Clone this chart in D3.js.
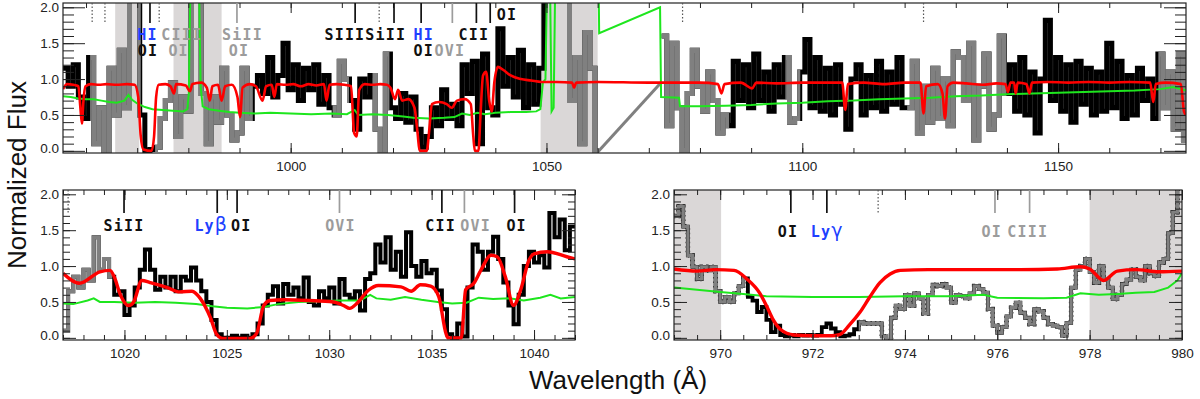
<!DOCTYPE html>
<html>
<head>
<meta charset="utf-8">
<script src="https://cdn.jsdelivr.net/npm/d3@7"></script>
<style>
  body { margin: 0; background: #fff; overflow: hidden; }
</style>
</head>
<body>
<div id="container"></div>
<script>
/* CONSTANTS AND GLOBALS */
const width = 1200, height = 399;
const tickFont = "Liberation Sans, Arial, sans-serif";
const ionFont = "DejaVu Sans Mono, monospace";
const fluxDomain = [-0.03, 2.06];
const shadeColor = "#dad7d7";
const ionColor = { b: "#111", g: "#9c9c9c", h: "#2040ff" };

/* DATA */
// ---- top panel (full range), flux in 1 A bins starting at 955.5
const topStart = 955.5, topBin = 1;
const topFlux = [
  1.15, 0.9, 1.2, 0.75, 0.45, 1.3, 0.1, 0.6, -0.1, 1.15,
  0.5, 1.4, 0.6, 2.3, 2.2, 0.5, 0.0, 0.02, 0.05, 0.45,
  0.7, 0.95, 0.2, 0.75, 0.55, 2.3, 2.3, 0.8, 0.1, 0.75,
  0.4, 1.15, 0.5, 0.15, 0.25, 1.15, 0.45, 0.9, 1.05, 0.8,
  1.3, 0.75, 1.05, 1.5, 0.85, 1.2, 0.7, 1.15, 0.85, 1.2,
  0.65, 1.05, 0.6, 0.5, 1.25, 1.0, 0.7, 0.3, 1.0, 0.75,
  1.05, 0.3, -0.05, 1.35, 0.6, 0.45, 0.8, 0.4, 0.75, 0.3,
  0.05, 0.2, 0.6, 0.35, 0.85, 0.45, 0.65, 0.35, 1.2, 0.8,
  1.25, 0.1, 1.35, 0.6, 0.5, 1.7, 0.9, 1.3, 0.75, 1.4,
  0.6, 1.2, 0.65, 1.15, 2.4, 2.4, 2.4, 2.3, 2.2, 0.7,
  1.3, 0.1, 1.65, 1.15, -0.05, null, null, null, null, null,
  null, null, null, null, null, null, null, 1.6, 0.35, 1.5,
  0.6, 0.0, 0.8, 1.4, 0.9, 0.55, 1.1, 0.7, 0.25, 0.5,
  0.35, 1.25, 0.7, 1.2, 0.6, 1.35, 0.7, 1.1, 0.55, 1.2,
  0.75, 1.3, 0.4, 0.45, 1.1, 1.55, 0.6, 1.3, 0.55, 1.15,
  0.5, 1.2, 0.65, 0.3, 1.0, 1.2, 0.5, 1.05, 0.6, 1.25,
  0.55, 1.1, 0.65, 1.3, 0.6, 0.6, 1.25, 0.25, 0.9, 0.4,
  1.15, 0.45, 1.0, 0.35, 1.38, 1.3, 0.7, 1.5, 0.15, 0.9,
  1.35, 0.3, 0.5, 1.6, 0.8, 1.2, 0.55, 1.3, 0.5, 1.1,
  0.25, 1.0, 1.82, 0.7, 1.3, 0.55, 1.2, 0.4, 1.25, 0.65,
  1.15, 0.5, 1.1, 0.55, 1.5, 0.6, 1.25, 0.45, 1.05, 0.5,
  1.15, 0.7, 1.0, 0.45, 1.35, 0.6, 1.1, 0.3, 1.35, 0.15
];
const topGapLine = [[1059.6, -0.05], [1072.5, 0.96]];
const topGray = [[960.8, 970.7], [973.5, 992.6], [1008.2, 1011.4], [1016, 1019.3],
  [1052, 1085.7], [1096.7, 1099.6], [1120.5, 1139.9], [1169.6, 1176]];
const topShade = [[965.7, 970.4], [977.1, 986.5], [1048.85, 1060]];
const topModel = [
  [955.5,0.86],[956.3,0.93],[957.5,0.92],[958.5,0.9],[958.9,0.6],[959.2,0.38],[959.5,0.7],[959.9,0.9],
  [961,0.93],[962.5,0.92],[964,0.93],[966,0.92],[968,0.93],[969.5,0.92],[970.2,0.75],[970.7,0.2],
  [971.2,0.02],[972.8,0.0],[973.3,0.2],[973.7,0.75],[974.2,0.92],[975.5,0.93],[976.5,0.9],[977.2,0.8],
  [977.6,0.93],[979.5,0.91],[980.3,0.83],[980.8,0.93],[982.5,0.95],[983.6,0.88],[984.2,0.7],[984.7,0.9],
  [985.8,0.92],[986.5,0.7],[987.2,0.9],[988.5,0.92],[989.6,0.75],[990.1,0.47],[990.6,0.88],[992,0.93],
  [993.2,0.9],[994.5,0.7],[995.2,0.9],[996.3,0.92],[996.8,0.75],[997.3,0.93],[999,0.92],[1000.5,0.93],
  [1002,0.9],[1003.5,0.93],[1005,0.91],[1006.5,0.93],[1007,0.7],[1007.6,0.92],[1009,0.93],[1010.5,0.92],
  [1011.8,0.9],[1012.4,0.25],[1012.9,0.2],[1013.4,0.85],[1014.5,0.93],[1016,0.92],[1017.5,0.93],[1018.8,0.92],
  [1019.5,0.88],[1020.4,0.72],[1021,0.85],[1021.8,0.7],[1023,0.72],[1024.2,0.6],[1024.8,0.25],[1025.2,0.0],
  [1026.6,0.0],[1027.1,0.3],[1027.6,0.65],[1029,0.68],[1030.5,0.65],[1031.5,0.6],[1032.5,0.7],[1034,0.72],
  [1035.2,0.65],[1035.7,0.2],[1036,0.0],[1036.7,0.0],[1037.1,0.5],[1037.6,1.05],[1038.2,1.1],[1038.8,0.7],
  [1039.3,0.55],[1039.8,0.95],[1040.5,1.17],[1041.5,1.13],[1043,1.05],[1045,1.0],[1047,0.98],[1049,0.96],
  [1052,0.96],[1055,0.95],[1055.4,0.88],[1055.8,0.95],[1060,0.96],[1070,0.95],[1080,0.95],[1083.5,0.93],
  [1084.2,0.8],[1084.8,0.93],[1088,0.95],[1090.2,0.87],[1091,0.95],[1095,0.94],[1100,0.95],[1105,0.95],
  [1107.8,0.95],[1108.4,0.57],[1108.9,0.93],[1112,0.95],[1116,0.93],[1120,0.95],[1123.1,0.95],[1123.7,0.52],
  [1124.2,0.9],[1126.5,0.93],[1127.4,0.8],[1127.9,0.45],[1128.4,0.9],[1129.5,0.95],[1132,0.94],[1135.2,0.92],
  [1138,0.94],[1139.7,0.93],[1140.2,0.82],[1140.7,0.95],[1141.4,0.95],[1141.7,0.8],[1142.1,0.95],[1143.8,0.93],
  [1144.4,0.8],[1144.9,0.95],[1148,0.96],[1152,0.95],[1156,0.96],[1160,0.95],[1164,0.96],[1168,0.95],
  [1168.6,0.68],[1169.1,0.93],[1171,0.95],[1174,0.93],[1174.6,0.55],[1175,0.5]
];
const topError = [
  [955.5,0.76],[957,0.75],[958.5,0.73],[960,0.72],[961.5,0.72],[963,0.7],[964.5,0.68],[966,0.67],
  [967.5,0.7],[968.3,0.78],[969,0.71],[970,0.66],[971.5,0.61],[973,0.58],[975,0.57],[977,0.56],
  [979,0.55],[979.8,0.58],[980.1,0.8],[980.4,2.3],[982.1,2.3],[982.4,0.9],[982.8,0.62],[984,0.58],
  [986,0.56],[988,0.54],[990,0.53],[993,0.52],[996,0.53],[1000,0.52],[1004,0.51],[1008,0.52],
  [1011,0.51],[1012.5,0.57],[1013.2,0.5],[1016,0.51],[1019,0.5],[1022,0.48],[1024,0.46],[1027,0.45],
  [1030,0.46],[1032,0.47],[1033.5,0.52],[1035,0.5],[1036.5,0.53],[1038,0.51],[1040,0.53],[1043,0.54],
  [1046,0.54],[1048,0.55],[1048.8,0.58],[1049.3,0.95],[1049.8,1.0],[1050.1,2.3],[1050.7,2.3],[1051.0,0.55],
  [1051.4,0.6],[1051.7,2.3],[1060.2,2.3],[1060.3,1.64],[1072.2,2.0],[1072.4,0.75],[1075.9,0.74],[1076.1,0.62],
  [1080,0.62],[1085,0.63],[1090,0.64],[1095,0.66],[1100,0.67],[1105,0.69],[1110,0.7],[1115,0.72],
  [1120,0.73],[1125,0.74],[1130,0.76],[1135,0.77],[1140,0.79],[1145,0.8],[1150,0.81],[1155,0.82],
  [1160,0.83],[1165,0.84],[1170,0.86],[1172.5,0.89],[1175,0.84]
];
// [wavelength, kind] ; kind: solid / gray / dot
const topMarks = [[961.2,"dot"],[963.7,"dot"],[972.5,"solid"],[974.3,"dot"],[989.5,"gray"],[1012.6,"solid"],
  [1017.3,"dot"],[1020.2,"solid"],[1025.5,"solid"],[1031.6,"gray"],[1036.3,"solid"],[1039.0,"solid"],
  [1076.6,"dot"],[1123.7,"dot"]];
// [text, wavelength, row, colour key]
const topLabels = [["HI",972.0,1,"h"],["OI",972.1,2,"b"],["CIII",978.7,1,"g"],["OI",978.1,2,"g"],
  ["SiII",990.6,1,"g"],["OI",989.9,2,"g"],["SIII",1010.6,1,"b"],["SiII",1018.6,1,"b"],
  ["HI",1026.0,1,"h"],["OI",1026.0,2,"b"],["OVI",1031.1,2,"g"],["CII",1035.8,1,"b"],["OI",1042.3,0,"b"]];

// ---- bottom left panel (Ly beta), 0.25 A bins from 1017
const blStart = 1017, blBin = 0.25;
const blFlux = [
  0.1, 0.65, 0.85, 0.7, 0.95, 0.8, 1.4, 0.95, 1.1, 0.85,
  0.6, 0.65, 0.32, 0.45, 0.7, 0.95, 1.23, 0.95, 0.67, 0.85,
  0.7, 0.85, 0.65, 0.85, 0.8, 0.98, 0.8, 0.65, 0.5, 0.25,
  0.05, 0.0, 0.0, 0.03, 0.0, 0.03, 0.0, 0.05, 0.2, 0.45,
  0.6, 0.72, 0.48, 0.75, 0.6, 0.7, 0.55, 0.84, 0.5, 0.45,
  0.65, 0.55, 0.7, 0.48, 0.82, 0.6, 0.55, 0.65, 0.38, 0.82,
  0.9, 1.3, 1.05, 1.4, 0.95, 1.2, 0.85, 1.47, 1.0, 0.85,
  1.07, 0.9, 0.95, 0.66, 0.4, 0.05, 0.0, 0.2, 0.02, 0.7,
  1.3, 1.2, 0.95, 1.2, 1.41, 1.1, 0.77, 0.45, 0.19, 0.6,
  1.0, 1.2, 1.05, 1.15, 0.98, 1.74, 1.4, 1.65, 1.22, 1.55
];
const blGray = [[1017, 1019.4]];
const blModel = [
  [1017,0.9],[1017.8,0.76],[1018.8,0.92],[1019.3,0.94],[1019.5,0.85],[1019.8,0.6],[1020.2,0.45],[1020.45,0.5],
  [1020.85,0.8],[1021.25,0.77],[1022.1,0.7],[1022.7,0.64],[1023.3,0.65],[1023.7,0.55],[1024.2,0.28],[1024.5,0.05],
  [1024.8,-0.01],[1026.1,-0.01],[1026.45,0.06],[1026.8,0.45],[1027.1,0.52],[1027.8,0.53],[1029,0.52],[1030.2,0.5],
  [1030.7,0.45],[1031,0.41],[1031.35,0.48],[1031.9,0.66],[1032.4,0.73],[1033.5,0.71],[1034,0.65],[1034.45,0.74],
  [1034.95,0.72],[1035.35,0.57],[1035.7,0.06],[1035.8,0.0],[1036.45,0.0],[1036.66,0.67],[1037.06,0.76],[1037.4,0.94],
  [1037.9,1.15],[1038.2,1.13],[1038.6,0.85],[1039,0.45],[1039.35,0.67],[1039.75,1.08],[1040,1.17],[1040.65,1.2],
  [1041.6,1.13],[1042,1.1]
];
const blError = [
  [1017,0.48],[1017.5,0.47],[1018.2,0.52],[1018.5,0.55],[1018.8,0.5],[1019.5,0.5],[1020.5,0.49],[1021.5,0.5],
  [1022.5,0.49],[1023.5,0.47],[1024.3,0.44],[1025,0.42],[1026,0.41],[1026.8,0.43],[1027.5,0.47],[1028.5,0.5],
  [1029.5,0.51],[1030.5,0.52],[1031.5,0.52],[1032,0.6],[1032.3,0.55],[1033,0.53],[1033.7,0.57],[1034.5,0.53],
  [1035.3,0.5],[1036,0.48],[1036.7,0.49],[1037.3,0.56],[1038,0.54],[1038.8,0.55],[1039.5,0.52],[1040.3,0.56],
  [1040.8,0.6],[1041.3,0.55],[1042,0.57]
];
const blMarks = [[1017.25,"dot"],[1019.98,"solid"],[1024.53,"solid"],[1025.5,"solid"],[1030.5,"gray"],
  [1035.5,"solid"],[1036.6,"gray"],[1039.05,"solid"]];
const blLabels = [["SiII",1019.98,0,"b"],["Lyβ",1024.24,0,"h"],["OI",1025.7,0,"b"],["OVI",1030.55,0,"g"],
  ["CII",1035.44,0,"b"],["OVI",1037.15,0,"g"],["OI",1039.15,0,"b"]];

// ---- bottom right panel (Ly gamma), 0.1 A bins from 969
const brStart = 969, brBin = 0.1;
const brFlux = [
  1.7, 1.83, 1.55, 1.15, 0.99, 0.82, 0.99, 0.94, 0.99, 0.65,
  0.5, 0.57, 0.5, 0.62, 0.72, 0.83, 0.57, 0.52, 0.36, 0.43,
  0.25, 0.08, 0.17, 0.04, 0.02, 0.04, 0.02, 0.04, 0.03, 0.04,
  0.03, 0.04, 0.15, 0.2, 0.13, 0.08, 0.02, 0.03, 0.05, 0.12,
  0.22, 0.2, 0.2, 0.2, 0.2, 0.02, -0.08, 0.28, 0.45, 0.4,
  0.6, 0.45, 0.62, 0.55, 0.34, 0.6, 0.74, 0.72, 0.75, 0.7,
  0.49, 0.6, 0.58, 0.55, 0.62, 0.72, 0.68, 0.63, 0.4, 0.17,
  0.07, 0.15, 0.3, 0.42, 0.49, 0.35, 0.28, 0.19, 0.4, 0.37,
  0.28, 0.19, 0.17, 0.15, 0.03, 0.21, 0.7, 0.95, 1.0, 1.1,
  0.92, 0.77, 1.0, 0.81, 0.7, 0.54, 0.6, 0.75, 0.81, 0.95,
  0.85, 0.8, 1.0, 0.9, 0.86, 1.05, 1.1, 1.46, 1.75, 2.1
];
const brGray = [[969, 970.55], [973.0, 980.5]];
const brShade = [[969, 970.02], [978.0, 980]];
const brModel = [
  [969,0.96],[969.5,0.93],[969.9,0.95],[970.3,0.94],[970.58,0.82],[970.86,0.62],[971.0,0.45],[971.15,0.25],
  [971.3,0.12],[971.6,0.04],[972.0,0.03],[972.4,0.03],[972.6,0.05],[972.8,0.18],[973.03,0.36],[973.24,0.57],
  [973.46,0.77],[973.68,0.89],[973.9,0.94],[974.5,0.95],[975.5,0.95],[976.5,0.95],[977.3,0.96],[977.8,0.99],
  [978.0,0.96],[978.3,0.8],[978.6,0.93],[979,0.95],[979.5,0.92],[980,0.93]
];
const brError = [
  [969,0.7],[969.5,0.67],[970,0.64],[970.5,0.61],[971,0.58],[972,0.57],[973,0.57],[974,0.58],[975,0.58],
  [975.7,0.6],[976,0.56],[977,0.55],[977.5,0.56],[977.8,0.62],[978.2,0.6],[978.6,0.61],[979,0.63],
  [979.4,0.64],[979.7,0.7],[979.9,0.8],[980,0.9]
];
const brMarks = [[971.53,"solid"],[972.31,"solid"],[973.42,"dot"],[975.95,"gray"],[976.7,"gray"]];
const brLabels = [["OI",971.47,0,"b"],["Lyγ",972.32,0,"h"],["OI",975.88,0,"g"],["CIII",976.66,0,"g"]];

const yMajor = [0, 0.5, 1.0, 1.5, 2.0];
const yMinor = d3.range(0, 2.0001, 0.1);

/* PANEL SETUP */
const panels = [
  { name: "top", x0: 63, x1: 1186, y0: 3, y1: 153, domain: [955.5, 1175], xMajor: 50, xMinor: 10,
    yMajLen: 22, yMinLen: 11, rows: [20, 40, 56], markLen: 20,
    start: topStart, bin: topBin, flux: topFlux, gray: topGray, shade: topShade, gap: topGapLine,
    model: topModel, error: topError, marks: topMarks, labels: topLabels, dataW: 5, modelW: 2.6, outline: false },
  { name: "left", x0: 63, x1: 575, y0: 190, y1: 340, domain: [1017, 1042], xMajor: 5, xMinor: 1,
    yMajLen: 13, yMinLen: 7, rows: [231], markLen: 23,
    start: blStart, bin: blBin, flux: blFlux, gray: blGray, shade: [], gap: null,
    model: blModel, error: blError, marks: blMarks, labels: blLabels, dataW: 4, modelW: 3.4, outline: false },
  { name: "right", x0: 674, x1: 1182, y0: 190, y1: 340, domain: [969, 980], xMajor: 2, xMinor: 0.5,
    yMajLen: 13, yMinLen: 7, rows: [237], markLen: 23,
    start: brStart, bin: brBin, flux: brFlux, gray: brGray, shade: brShade, gap: null,
    model: brModel, error: brError, marks: brMarks, labels: brLabels, dataW: 3.8, modelW: 3.4, outline: true }
];

const svg = d3.select("#container").append("svg")
  .attr("width", width).attr("height", height);
const defs = svg.append("defs");

function axisGroup(gen, tx, ty) {
  return svg.append("g")
    .attr("transform", `translate(${tx},${ty})`)
    .call(gen)
    .attr("font-family", tickFont)
    .attr("font-size", 13.5)
    .attr("color", "#222")
    .call(g => g.select(".domain").remove());
}

/* DRAW FUNCTION */
function drawPanel(p) {
  const x = d3.scaleLinear().domain(p.domain).range([p.x0, p.x1]);
  const y = d3.scaleLinear().domain(fluxDomain).range([p.y1, p.y0]);

  defs.append("clipPath").attr("id", "clip-" + p.name)
    .append("rect")
    .attr("x", p.x0).attr("y", p.y0)
    .attr("width", p.x1 - p.x0).attr("height", p.y1 - p.y0);

  const plot = svg.append("g").attr("clip-path", `url(#clip-${p.name})`);

  // masked regions
  plot.selectAll("rect.shade")
    .data(p.shade)
    .join("rect")
    .attr("class", "shade")
    .attr("x", d => x(d[0]))
    .attr("width", d => x(d[1]) - x(d[0]))
    .attr("y", p.y0)
    .attr("height", p.y1 - p.y0)
    .attr("fill", shadeColor);

  // spectrum as a histogram
  const pts = p.flux.map((v, i) => [p.start + i * p.bin, v]);
  pts.push([p.start + p.flux.length * p.bin, p.flux[p.flux.length - 1]]);

  const step = d3.line()
    .defined(d => d[1] !== null)
    .x(d => x(d[0]))
    .y(d => y(d[1]))
    .curve(d3.curveStepAfter);
  const straight = d3.line().x(d => x(d[0])).y(d => y(d[1]));
  const smooth = d3.line().x(d => x(d[0])).y(d => y(d[1])).curve(d3.curveMonotoneX);

  plot.append("path")
    .datum(pts)
    .attr("d", step)
    .attr("fill", "none")
    .attr("stroke", "#000")
    .attr("stroke-width", p.dataW);

  // grey parts of the spectrum
  p.gray.forEach((r, i) => {
    const id = `gclip-${p.name}-${i}`;
    defs.append("clipPath").attr("id", id)
      .append("rect")
      .attr("x", x(r[0])).attr("y", p.y0 - 5)
      .attr("width", x(r[1]) - x(r[0])).attr("height", p.y1 - p.y0 + 10);
    const seg = plot.append("g").attr("clip-path", `url(#${id})`);
    if (p.outline) {
      seg.append("path")
        .datum(pts)
        .attr("d", step)
        .attr("fill", "none")
        .attr("stroke", "#222")
        .attr("stroke-width", p.dataW + 0.8)
        .attr("stroke-dasharray", "1.5,3");
    }
    seg.append("path")
      .datum(pts)
      .attr("d", step)
      .attr("fill", "none")
      .attr("stroke", "#808080")
      .attr("stroke-width", p.outline ? p.dataW - 0.6 : p.dataW);
  });

  if (p.gap) {
    plot.append("path")
      .datum(p.gap)
      .attr("d", straight)
      .attr("fill", "none")
      .attr("stroke", "#808080")
      .attr("stroke-width", 3);
  }

  // error spectrum
  plot.append("path")
    .datum(p.error)
    .attr("d", straight)
    .attr("fill", "none")
    .attr("stroke", "#1ee61e")
    .attr("stroke-width", 2);

  // model
  plot.append("path")
    .datum(p.model)
    .attr("d", smooth)
    .attr("fill", "none")
    .attr("stroke", "#ff0000")
    .attr("stroke-width", p.modelW)
    .attr("stroke-linejoin", "round");

  // + AXES (ticks on all four sides, pointing in)
  const xMinorTicks = d3.range(Math.ceil(p.domain[0] / p.xMinor) * p.xMinor, p.domain[1] + 1e-6, p.xMinor);
  const xMajorTicks = xMinorTicks.filter(v => Math.abs(v / p.xMajor - Math.round(v / p.xMajor)) < 1e-6);

  axisGroup(d3.axisBottom(x).tickValues(xMinorTicks).tickSize(-5).tickFormat(""), 0, p.y1);
  axisGroup(d3.axisBottom(x).tickValues(xMajorTicks).tickSize(-10).tickPadding(8).tickFormat(d3.format("d")), 0, p.y1);
  axisGroup(d3.axisTop(x).tickValues(xMinorTicks).tickSize(-5).tickFormat(""), 0, p.y0);
  axisGroup(d3.axisTop(x).tickValues(xMajorTicks).tickSize(-10).tickFormat(""), 0, p.y0);

  axisGroup(d3.axisLeft(y).tickValues(yMinor).tickSize(-p.yMinLen).tickFormat(""), p.x0, 0);
  const yl = axisGroup(d3.axisLeft(y).tickValues(yMajor).tickSize(-p.yMajLen).tickPadding(4).tickFormat(d3.format(".1f")), p.x0, 0);
  yl.selectAll("text").filter(d => d === 0).attr("dy", "0.1em");
  axisGroup(d3.axisRight(y).tickValues(yMinor).tickSize(-p.yMinLen).tickFormat(""), p.x1, 0);
  axisGroup(d3.axisRight(y).tickValues(yMajor).tickSize(-p.yMajLen).tickFormat(""), p.x1, 0);

  svg.append("rect")
    .attr("x", p.x0).attr("y", p.y0)
    .attr("width", p.x1 - p.x0).attr("height", p.y1 - p.y0)
    .attr("fill", "none")
    .attr("stroke", "#222")
    .attr("stroke-width", 1.2);

  // line identification marks
  svg.selectAll(null)
    .data(p.marks)
    .join("line")
    .attr("x1", d => x(d[0])).attr("x2", d => x(d[0]))
    .attr("y1", p.y0).attr("y2", p.y0 + p.markLen)
    .attr("stroke", d => d[1] === "gray" ? "#9c9c9c" : d[1] === "dot" ? "#555" : "#111")
    .attr("stroke-width", d => d[1] === "dot" ? 1.2 : 1.7)
    .attr("stroke-dasharray", d => d[1] === "dot" ? "1.5,2" : null);

  p.labels.forEach(([txt, w, row, kind]) => {
    const t = svg.append("text")
      .attr("x", x(w))
      .attr("y", p.rows[row])
      .attr("text-anchor", "middle")
      .attr("fill", ionColor[kind])
      .attr("font-family", ionFont)
      .attr("font-weight", "bold")
      .attr("font-size", 15)
      .attr("letter-spacing", 1.2);
    const greek = txt.match(/[βγ]$/);
    if (greek) {
      t.append("tspan").text(txt.slice(0, -1));
      t.append("tspan")
        .attr("font-family", "DejaVu Sans, sans-serif")
        .attr("font-weight", "normal")
        .attr("font-size", 19)
        .text(greek[0]);
    } else {
      t.text(txt);
    }
  });
}

panels.forEach(drawPanel);

// + AXIS TITLES
svg.append("text")
  .attr("transform", "translate(26,175) rotate(-90)")
  .attr("text-anchor", "middle")
  .attr("font-family", tickFont)
  .attr("font-size", 26)
  .attr("fill", "#111")
  .text("Normalized Flux");

svg.append("text")
  .attr("x", 618)
  .attr("y", 389)
  .attr("text-anchor", "middle")
  .attr("font-family", tickFont)
  .attr("font-size", 26)
  .attr("fill", "#111")
  .text("Wavelength (Å)");
</script>
</body>
</html>
